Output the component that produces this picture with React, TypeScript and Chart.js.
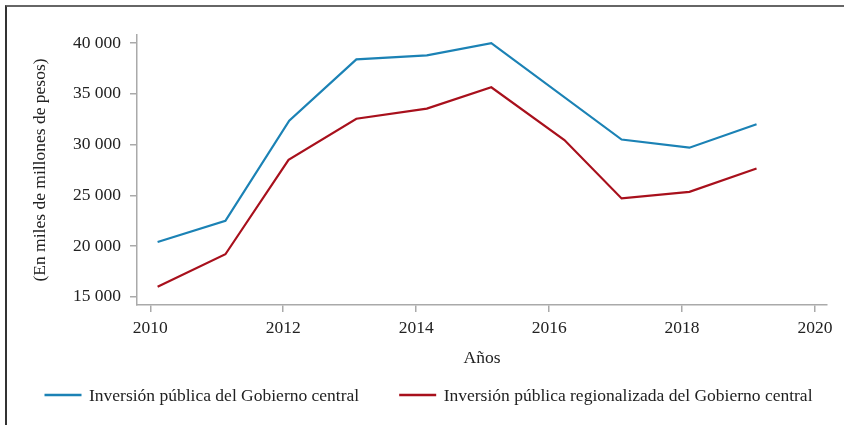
import React, { useEffect, useRef } from "react";
import { Chart, registerables } from "chart.js";

Chart.register(...registerables);

const seriesNames = [
  "Inversión pública del Gobierno central",
  "Inversión pública regionalizada del Gobierno central",
];

const blueYears = [2010.11, 2011.13, 2012.09, 2013.1, 2014.16, 2015.13, 2017.09, 2018.11, 2019.12];
const blueValues = [20400, 22500, 32350, 38400, 38800, 40000, 30500, 29700, 32000];

const redYears = [2010.11, 2011.13, 2012.08, 2013.1, 2014.16, 2015.13, 2016.23, 2017.09, 2018.11, 2019.12];
const redValues = [16000, 19200, 28500, 32550, 33550, 35650, 30450, 24700, 25350, 27650];

const xTicks = [2010, 2012, 2014, 2016, 2018, 2020];
const yTicks = [15000, 20000, 25000, 30000, 35000, 40000];

const xTitle = "Años";
const yTitle = "(En miles de millones de pesos)";

const BLUE = "#1b82b5";
const RED = "#a8101c";
const FONT = "'Liberation Serif', 'Times New Roman', serif";
const FONT_SIZE = 17.5;

function fmt(v: number): string {
  return String(Math.round(v)).replace(/\B(?=(\d{3})+(?!\d))/g, " ");
}

const lineLegend = {
  id: "lineLegend",
  afterDraw(chart: any) {
    const ctx = chart.ctx as CanvasRenderingContext2D;
    const sample = 37;
    const gapText = 7.5;
    const gapItems = 40;
    const centerX = 428.5;
    const y = 395;
    ctx.save();
    ctx.font = `${FONT_SIZE}px ${FONT}`;
    const items = chart.data.datasets.map((d: any) => ({
      label: d.label as string,
      color: d.borderColor as string,
      w: ctx.measureText(d.label).width,
    }));
    let total = 0;
    items.forEach((it: any, i: number) => {
      total += sample + gapText + it.w + (i < items.length - 1 ? gapItems : 0);
    });
    let x = centerX - total / 2;
    ctx.textBaseline = "middle";
    ctx.textAlign = "left";
    items.forEach((it: any) => {
      ctx.strokeStyle = it.color;
      ctx.lineWidth = 2.4;
      ctx.beginPath();
      ctx.moveTo(x, y);
      ctx.lineTo(x + sample, y);
      ctx.stroke();
      ctx.fillStyle = "#222";
      ctx.fillText(it.label, x + sample + gapText, y + 1);
      x += sample + gapText + it.w + gapItems;
    });
    ctx.restore();
  },
};

export default function App() {
  const ref = useRef<HTMLCanvasElement | null>(null);

  useEffect(() => {
    if (!ref.current) return;
    const font = { family: FONT, size: FONT_SIZE };
    const chart = new Chart(ref.current, {
      type: "line",
      data: {
        datasets: [
          {
            label: seriesNames[0],
            data: blueYears.map((x, i) => ({ x, y: blueValues[i] })),
            borderColor: BLUE,
            backgroundColor: BLUE,
            borderWidth: 2.2,
            pointRadius: 0,
            tension: 0,
          },
          {
            label: seriesNames[1],
            data: redYears.map((x, i) => ({ x, y: redValues[i] })),
            borderColor: RED,
            backgroundColor: RED,
            borderWidth: 2.2,
            pointRadius: 0,
            tension: 0,
          },
        ],
      },
      options: {
        animation: false,
        responsive: false,
        maintainAspectRatio: false,
        layout: { padding: { top: 35, right: 17, left: 30, bottom: 55 } },
        plugins: {
          tooltip: { enabled: false },
          legend: { display: false },
        },
        scales: {
          x: {
            type: "linear",
            min: 2009.8,
            max: 2020.18,
            afterBuildTicks: (s: any) => {
              s.ticks = xTicks.map((v) => ({ value: v }));
            },
            afterFit: (s: any) => {
              s.height = 65;
            },
            grid: { drawOnChartArea: false, tickLength: 7, color: "#aaa", lineWidth: 1.5 },
            border: { color: "#aaa", width: 1.5 },
            ticks: { font, color: "#222", padding: 6, maxRotation: 0, callback: (v: any) => String(v) },
            title: { display: true, text: xTitle, font, color: "#222", padding: { top: 0, bottom: 1.5 } },
          },
          y: {
            type: "linear",
            min: 14200,
            max: 40800,
            afterBuildTicks: (s: any) => {
              s.ticks = yTicks.map((v) => ({ value: v }));
            },
            afterFit: (s: any) => {
              s.width = 107;
            },
            grid: { drawOnChartArea: false, tickLength: 7, color: "#aaa", lineWidth: 1.5 },
            border: { color: "#aaa", width: 1.5 },
            ticks: { font, color: "#222", padding: 9, callback: (v: any) => fmt(Number(v)) },
            title: { display: true, text: yTitle, font, color: "#222", padding: { top: 0, bottom: 0 } },
          },
        },
      },
      plugins: [lineLegend],
    });
    return () => chart.destroy();
  }, []);

  return (
    <div style={{ position: "fixed", left: 0, top: 0, width: 844, height: 425, background: "#fff" }}>
      <canvas ref={ref} width={844} height={425} style={{ position: "absolute", left: 0, top: 0, width: 844, height: 425 }} />
      <div
        style={{
          position: "absolute",
          left: 5,
          top: 5,
          right: 0,
          bottom: 0,
          borderTop: "2px solid #666",
          borderLeft: "2px solid #333",
          pointerEvents: "none",
        }}
      />
    </div>
  );
}
